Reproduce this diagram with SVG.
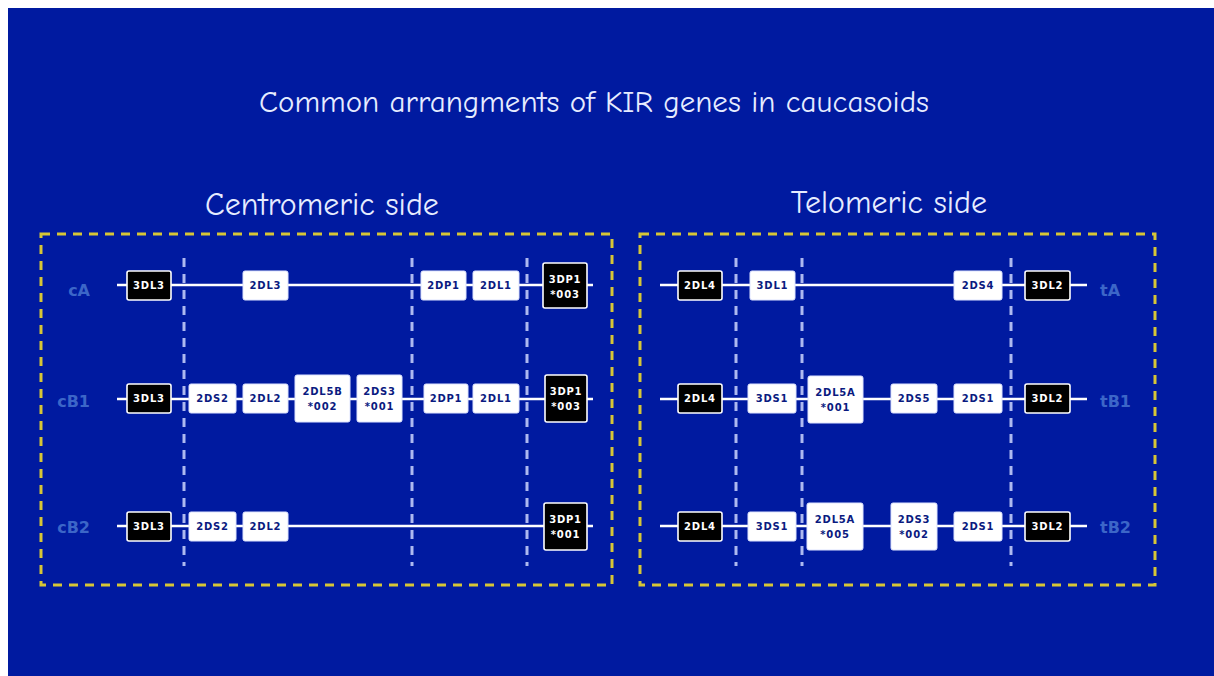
<svg xmlns="http://www.w3.org/2000/svg" width="1214" height="676" viewBox="0 0 1214 676">
  <style>
    .title { fill: #e6ecff; font-family: "Comic Neue", "DejaVu Sans", "Noto Sans", sans-serif; text-anchor: middle; }
    .frame { fill: none; stroke: #d6c636; stroke-width: 3; stroke-dasharray: 9 7; }
    .sep { stroke: #aeb9f0; stroke-width: 3; stroke-dasharray: 9 7; }
    .wire { stroke: #ffffff; stroke-width: 2.5; fill: none; }
    .row { fill: #3c66c8; font-family: "DejaVu Sans", "Noto Sans", sans-serif; font-size: 16px; font-weight: bold; }
    .gw rect { fill: #ffffff; stroke: #dde3ff; stroke-width: 1; }
    .gb rect { fill: #000000; stroke: #ffffff; stroke-width: 1.6; }
    .gw text, .gb text { font-family: "DejaVu Sans", "Noto Sans", sans-serif; font-size: 10px; font-weight: bold; letter-spacing: 0.8px; text-anchor: middle; }
    .gw text { fill: #0a1a80; }
    .gb text { fill: #ffffff; }
  </style>

  <!-- slide background -->
  <rect x="0" y="0" width="1214" height="676" fill="#ffffff"/>
  <rect x="8" y="8" width="1206" height="668" fill="#001aa0"/>

  <!-- headings -->
  <text class="title" x="594" y="112" font-size="31">Common arrangments of KIR genes in caucasoids</text>
  <text class="title" x="322" y="215" font-size="32">Centromeric side</text>
  <text class="title" x="889" y="213" font-size="32">Telomeric side</text>

  <!-- region frames -->
  <g id="frames">
    <rect class="frame" x="41" y="234" width="571" height="351"/>
    <rect class="frame" x="640" y="234" width="515" height="351"/>
  </g>

  <!-- recombination boundaries -->
  <g id="separators">
    <line class="sep" x1="184" y1="258" x2="184" y2="566"/>
    <line class="sep" x1="412" y1="258" x2="412" y2="566"/>
    <line class="sep" x1="527" y1="258" x2="527" y2="566"/>
    <line class="sep" x1="736" y1="258" x2="736" y2="566"/>
    <line class="sep" x1="802" y1="258" x2="802" y2="566"/>
    <line class="sep" x1="1011" y1="258" x2="1011" y2="566"/>
  </g>

  <!-- haplotype backbones -->
  <g id="connectors">
    <line class="wire" x1="117" y1="285" x2="593" y2="285"/>
    <line class="wire" x1="117" y1="399" x2="593" y2="399"/>
    <line class="wire" x1="117" y1="526" x2="593" y2="526"/>
    <line class="wire" x1="660" y1="285" x2="1087" y2="285"/>
    <line class="wire" x1="660" y1="399" x2="1087" y2="399"/>
    <line class="wire" x1="660" y1="526" x2="1087" y2="526"/>
  </g>

  <!-- haplotype names -->
  <g id="row-labels">
    <text class="row" x="90" y="296" text-anchor="end">cA</text>
    <text class="row" x="90" y="407" text-anchor="end">cB1</text>
    <text class="row" x="90" y="533" text-anchor="end">cB2</text>
    <text class="row" x="1100" y="296">tA</text>
    <text class="row" x="1100" y="407">tB1</text>
    <text class="row" x="1100" y="533">tB2</text>
  </g>

  <!-- centromeric cA -->
  <g id="cA-3DL3" class="gb"><rect x="127" y="271" width="44" height="29" rx="2"/><text x="149" y="289">3DL3</text></g>
  <g id="cA-2DL3" class="gw"><rect x="243" y="271" width="45" height="29" rx="2"/><text x="265.5" y="289">2DL3</text></g>
  <g id="cA-2DP1" class="gw"><rect x="421" y="271" width="45" height="29" rx="2"/><text x="443.5" y="289">2DP1</text></g>
  <g id="cA-2DL1" class="gw"><rect x="473" y="271" width="46" height="29" rx="2"/><text x="496" y="289">2DL1</text></g>
  <g id="cA-3DP1" class="gb"><rect x="543" y="263" width="44" height="45" rx="2"/><text x="565" y="283">3DP1</text><text x="565" y="298">*003</text></g>

  <!-- centromeric cB1 -->
  <g id="cB1-3DL3" class="gb"><rect x="127" y="384" width="44" height="29" rx="2"/><text x="149" y="402">3DL3</text></g>
  <g id="cB1-2DS2" class="gw"><rect x="189" y="384" width="47" height="29" rx="2"/><text x="212.5" y="402">2DS2</text></g>
  <g id="cB1-2DL2" class="gw"><rect x="243" y="384" width="45" height="29" rx="2"/><text x="265.5" y="402">2DL2</text></g>
  <g id="cB1-2DL5B" class="gw"><rect x="295" y="375" width="55" height="47" rx="2"/><text x="322.5" y="395">2DL5B</text><text x="322.5" y="410">*002</text></g>
  <g id="cB1-2DS3" class="gw"><rect x="357" y="375" width="45" height="47" rx="2"/><text x="379.5" y="395">2DS3</text><text x="379.5" y="410">*001</text></g>
  <g id="cB1-2DP1" class="gw"><rect x="424" y="384" width="44" height="29" rx="2"/><text x="446" y="402">2DP1</text></g>
  <g id="cB1-2DL1" class="gw"><rect x="473" y="384" width="46" height="29" rx="2"/><text x="496" y="402">2DL1</text></g>
  <g id="cB1-3DP1" class="gb"><rect x="545" y="375" width="42" height="47" rx="2"/><text x="566" y="395">3DP1</text><text x="566" y="410">*003</text></g>

  <!-- centromeric cB2 -->
  <g id="cB2-3DL3" class="gb"><rect x="127" y="512" width="44" height="29" rx="2"/><text x="149" y="530">3DL3</text></g>
  <g id="cB2-2DS2" class="gw"><rect x="189" y="512" width="47" height="29" rx="2"/><text x="212.5" y="530">2DS2</text></g>
  <g id="cB2-2DL2" class="gw"><rect x="243" y="512" width="45" height="29" rx="2"/><text x="265.5" y="530">2DL2</text></g>
  <g id="cB2-3DP1" class="gb"><rect x="544" y="503" width="43" height="47" rx="2"/><text x="565.5" y="523">3DP1</text><text x="565.5" y="538">*001</text></g>

  <!-- telomeric tA -->
  <g id="tA-2DL4" class="gb"><rect x="678" y="271" width="44" height="29" rx="2"/><text x="700" y="289">2DL4</text></g>
  <g id="tA-3DL1" class="gw"><rect x="750" y="271" width="45" height="29" rx="2"/><text x="772.5" y="289">3DL1</text></g>
  <g id="tA-2DS4" class="gw"><rect x="954" y="271" width="48" height="29" rx="2"/><text x="978" y="289">2DS4</text></g>
  <g id="tA-3DL2" class="gb"><rect x="1025" y="271" width="45" height="29" rx="2"/><text x="1047.5" y="289">3DL2</text></g>

  <!-- telomeric tB1 -->
  <g id="tB1-2DL4" class="gb"><rect x="678" y="384" width="44" height="29" rx="2"/><text x="700" y="402">2DL4</text></g>
  <g id="tB1-3DS1" class="gw"><rect x="748" y="384" width="48" height="29" rx="2"/><text x="772" y="402">3DS1</text></g>
  <g id="tB1-2DL5A" class="gw"><rect x="808" y="376" width="55" height="47" rx="2"/><text x="835.5" y="396">2DL5A</text><text x="835.5" y="411">*001</text></g>
  <g id="tB1-2DS5" class="gw"><rect x="891" y="384" width="46" height="29" rx="2"/><text x="914" y="402">2DS5</text></g>
  <g id="tB1-2DS1" class="gw"><rect x="954" y="384" width="48" height="29" rx="2"/><text x="978" y="402">2DS1</text></g>
  <g id="tB1-3DL2" class="gb"><rect x="1025" y="384" width="45" height="29" rx="2"/><text x="1047.5" y="402">3DL2</text></g>

  <!-- telomeric tB2 -->
  <g id="tB2-2DL4" class="gb"><rect x="678" y="512" width="44" height="29" rx="2"/><text x="700" y="530">2DL4</text></g>
  <g id="tB2-3DS1" class="gw"><rect x="748" y="512" width="48" height="29" rx="2"/><text x="772" y="530">3DS1</text></g>
  <g id="tB2-2DL5A" class="gw"><rect x="807" y="503" width="56" height="47" rx="2"/><text x="835" y="523">2DL5A</text><text x="835" y="538">*005</text></g>
  <g id="tB2-2DS3" class="gw"><rect x="891" y="503" width="46" height="47" rx="2"/><text x="914" y="523">2DS3</text><text x="914" y="538">*002</text></g>
  <g id="tB2-2DS1" class="gw"><rect x="954" y="512" width="48" height="29" rx="2"/><text x="978" y="530">2DS1</text></g>
  <g id="tB2-3DL2" class="gb"><rect x="1025" y="512" width="45" height="29" rx="2"/><text x="1047.5" y="530">3DL2</text></g>
</svg>
